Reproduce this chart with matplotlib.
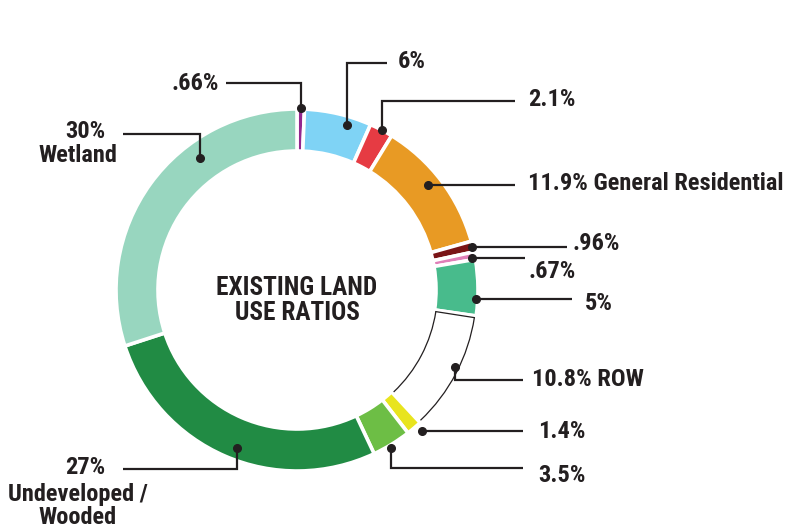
import numpy as np
import matplotlib.pyplot as plt
from matplotlib import font_manager as fm
from matplotlib.patches import Arc

# pick a condensed bold face if one is installed, else the narrow Liberation one
bold_font = None
for key in ['RobotoCondensed-Bold', 'NotoSans-CondensedBold', 'OpenSans-CondensedBold',
            'OpenSansCondensed-Bold', 'LiberationSansNarrow-Bold.']:
    hits = [f.fname for f in fm.fontManager.ttflist if key in f.fname]
    if hits:
        bold_font = fm.FontProperties(fname=hits[0])
        break
if bold_font is None:
    bold_font = fm.FontProperties(family='Liberation Sans Narrow', weight='bold')

# land use shares, clockwise from 12 o'clock
labels = ['Ag', 'Blue', 'Red', 'General Residential', 'DarkRed', 'Pink', 'Teal',
          'ROW', 'Yellow', 'LightGreen', 'Undeveloped / Wooded', 'Wetland']
shares = [0.66, 6, 2.1, 11.9, 0.96, 0.67, 5, 10.8, 1.4, 3.5, 27, 30]
colors = ['#93278f', '#7fd3f5', '#e63b43', '#e89a24', '#7a1416', '#e07fb8', '#48bb8c',
          '#ffffff', '#e8e41e', '#6dbe45', '#218b44', '#98d6bf']

W, H = 791, 529
ink = '#231f20'
cx, cy = 297, 529 - 290
R, ring = 181, 42

fig = plt.figure(figsize=(W / 100, H / 100), dpi=100)
ax = fig.add_axes([0, 0, 1, 1])

wedges, _ = ax.pie(shares, colors=colors, startangle=90, counterclock=False,
                   radius=R, center=(cx, cy), frame=True,
                   wedgeprops=dict(width=ring, edgecolor='white', linewidth=2.6))
ax.set_xlim(0, W)
ax.set_ylim(0, H)
ax.set_aspect('equal')
ax.axis('off')

# black outline on the ROW ring piece (outer, inner arc and leading edge)
row = wedges[labels.index('ROW')]
t1, t2 = row.theta1 + 0.6, row.theta2 - 0.6
ax.add_patch(Arc((cx, cy), 2 * (R - 1.5), 2 * (R - 1.5), theta1=t1, theta2=t2, color=ink, lw=0.9))
ax.add_patch(Arc((cx, cy), 2 * (R - ring + 1.5), 2 * (R - ring + 1.5), theta1=t1, theta2=t2, color=ink, lw=0.9))
a = np.deg2rad(t2)
ax.plot([cx + (R - ring + 1.5) * np.cos(a), cx + (R - 1.5) * np.cos(a)],
        [cy + (R - ring + 1.5) * np.sin(a), cy + (R - 1.5) * np.sin(a)], color=ink, lw=0.9)

lab_size = 17.6
# callouts: text, text anchor, alignment, leader path (last point gets the dot)
callouts = [
    ('.66%', (219, 84), 'right', [(226, 83), (301, 83), (301, 108)]),
    ('6%', (398, 62), 'left', [(387, 63), (347, 63), (347, 125)]),
    ('2.1%', (528, 100), 'left', [(515, 101), (382, 101), (382, 130)]),
    ('11.9% General Residential', (528, 183), 'left', [(515, 185), (428, 185)]),
    ('.96%', (573, 244), 'left', [(567, 247), (472, 247)]),
    ('.67%', (528, 271), 'left', [(525, 258), (472, 258)]),
    ('5%', (585, 304), 'left', [(572, 299), (476, 299)]),
    ('10.8% ROW', (532, 379), 'left', [(523, 380), (455, 380), (455, 367)]),
    ('1.4%', (538, 431), 'left', [(523, 431), (422, 431)]),
    ('3.5%', (538, 476), 'left', [(523, 468), (391, 468), (391, 448)]),
    ('30%', (85, 131), 'center', [(123, 134), (200, 134), (200, 158)]),
    ('27%', (85, 468), 'center', [(123, 469), (237, 469), (237, 448)]),
]
for txt, (tx, ty), ha, path in callouts:
    ax.text(tx, H - ty, txt, ha=ha, va='center', fontproperties=bold_font,
            fontsize=lab_size, color=ink)
    xs = [p[0] for p in path]
    ys = [H - p[1] for p in path]
    ax.plot(xs, ys, color=ink, lw=1.6, solid_joinstyle='miter', solid_capstyle='butt')
    ax.plot(xs[-1], ys[-1], 'o', color=ink, ms=5.5)

for txt, (tx, ty) in [('Wetland', (78, 156)), ('Undeveloped /', (78, 495)), ('Wooded', (78, 518))]:
    ax.text(tx, H - ty, txt, ha='center', va='center', fontproperties=bold_font,
            fontsize=lab_size, color=ink)

for txt, ty in [('EXISTING LAND', 288), ('USE RATIOS', 313)]:
    ax.text(cx, H - ty, txt, ha='center', va='center', fontproperties=bold_font,
            fontsize=18.2, color=ink)

fig.savefig('out.png', dpi=100)
